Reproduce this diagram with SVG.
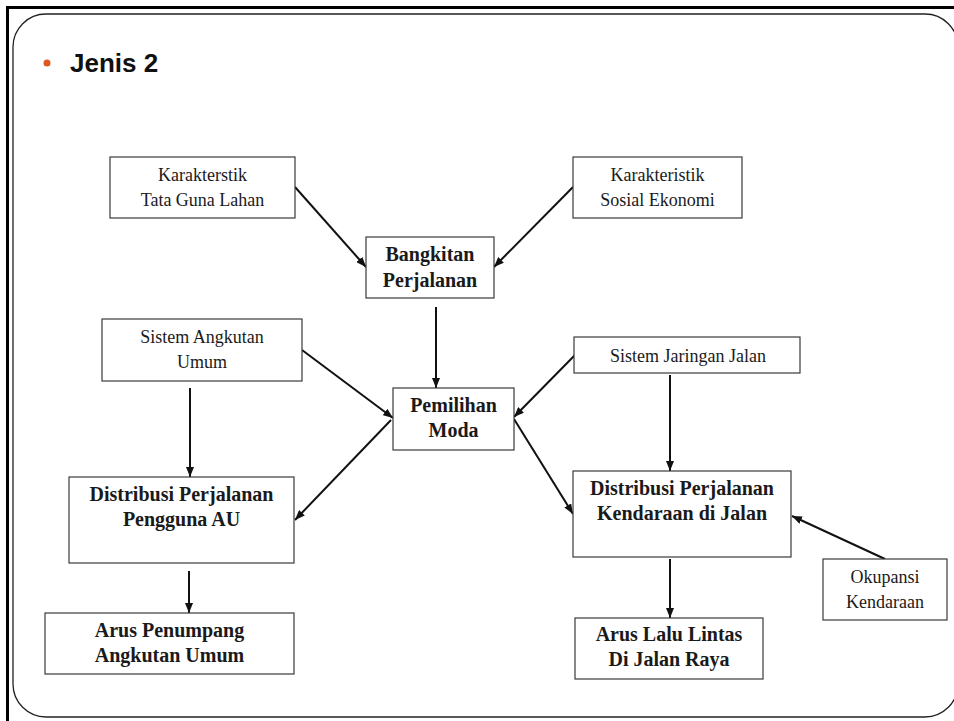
<svg xmlns="http://www.w3.org/2000/svg" width="954" height="721" viewBox="0 0 954 721">
<defs>
<style>
.box{fill:#fff;stroke:#3a3a3a;stroke-width:1.2}
.t{font-family:"Liberation Serif","DejaVu Serif",serif;font-size:18px;fill:#1a1a1a;text-anchor:middle}
.b{font-family:"Liberation Serif","DejaVu Serif",serif;font-size:20px;font-weight:bold;fill:#1a1a1a;text-anchor:middle}
.c{stroke:#111;stroke-width:2;fill:none;marker-end:url(#ah)}
</style>
<marker id="ah" markerUnits="userSpaceOnUse" markerWidth="10" markerHeight="8" refX="10" refY="4" orient="auto">
<path d="M0,0 L10,4 L0,8 z" fill="#111"/>
</marker>
</defs>
<rect width="954" height="721" fill="#fff"/>
<g id="frame">
<line x1="6" y1="7.5" x2="954" y2="7.5" stroke="#000" stroke-width="3"/>
<line x1="7.5" y1="6" x2="7.5" y2="721" stroke="#000" stroke-width="3"/>
<rect x="13" y="14" width="945" height="703" rx="33" ry="33" fill="none" stroke="#222" stroke-width="1.3"/>
</g>
<g id="title">
<circle cx="47" cy="63" r="3.5" fill="#E0581E"/>
<text x="70" y="72" font-family="'Liberation Sans',Arial,sans-serif" font-size="26" font-weight="bold" fill="#111">Jenis 2</text>
</g>
<g id="connectors">
<line class="c" x1="295" y1="187" x2="366" y2="267"/>
<line class="c" x1="573" y1="187" x2="494" y2="267"/>
<line class="c" x1="436" y1="307" x2="436" y2="388"/>
<line class="c" x1="302" y1="350" x2="393" y2="418"/>
<line class="c" x1="575" y1="355" x2="514" y2="417"/>
<line class="c" x1="391" y1="420" x2="295" y2="520"/>
<line class="c" x1="514" y1="419" x2="573" y2="514"/>
<line class="c" x1="190" y1="388" x2="190" y2="477"/>
<line class="c" x1="670" y1="375" x2="670" y2="471"/>
<line class="c" x1="189" y1="571" x2="189" y2="613"/>
<line class="c" x1="670" y1="559" x2="670" y2="618"/>
<line class="c" x1="885" y1="559" x2="792" y2="516"/>
</g>
<g id="n-tgl">
<rect class="box" x="110" y="157" width="185" height="61"/>
<text class="t" x="202.5" y="181">Karakterstik</text>
<text class="t" x="202.5" y="206">Tata Guna Lahan</text>
</g>
<g id="n-sosek">
<rect class="box" x="573" y="157" width="169" height="61"/>
<text class="t" x="657.5" y="181">Karakteristik</text>
<text class="t" x="657.5" y="206">Sosial Ekonomi</text>
</g>
<g id="n-bangkitan">
<rect class="box" x="366" y="237" width="128" height="61"/>
<text class="b" x="430" y="261">Bangkitan</text>
<text class="b" x="430" y="287">Perjalanan</text>
</g>
<g id="n-sau">
<rect class="box" x="102" y="319" width="200" height="62"/>
<text class="t" x="202" y="343">Sistem Angkutan</text>
<text class="t" x="202" y="368">Umum</text>
</g>
<g id="n-moda">
<rect class="box" x="393" y="388" width="121" height="62"/>
<text class="b" x="453.5" y="412">Pemilihan</text>
<text class="b" x="453.5" y="437">Moda</text>
</g>
<g id="n-sjj">
<rect class="box" x="574" y="337" width="226" height="36"/>
<text class="t" x="688" y="362">Sistem Jaringan Jalan</text>
</g>
<g id="n-dau">
<rect class="box" x="69" y="477" width="225" height="86"/>
<text class="b" x="181.5" y="501">Distribusi Perjalanan</text>
<text class="b" x="181.5" y="526">Pengguna AU</text>
</g>
<g id="n-apau">
<rect class="box" x="45" y="613" width="249" height="61"/>
<text class="b" x="169.5" y="637">Arus Penumpang</text>
<text class="b" x="169.5" y="662">Angkutan Umum</text>
</g>
<g id="n-dkj">
<rect class="box" x="573" y="471" width="218" height="86"/>
<text class="b" x="682" y="495">Distribusi Perjalanan</text>
<text class="b" x="682" y="520">Kendaraan di Jalan</text>
</g>
<g id="n-okupansi">
<rect class="box" x="823" y="559" width="124" height="61"/>
<text class="t" x="885" y="583">Okupansi</text>
<text class="t" x="885" y="608">Kendaraan</text>
</g>
<g id="n-alljr">
<rect class="box" x="575" y="618" width="188" height="61"/>
<text class="b" x="669" y="641">Arus Lalu Lintas</text>
<text class="b" x="669" y="666">Di Jalan Raya</text>
</g>
</svg>
